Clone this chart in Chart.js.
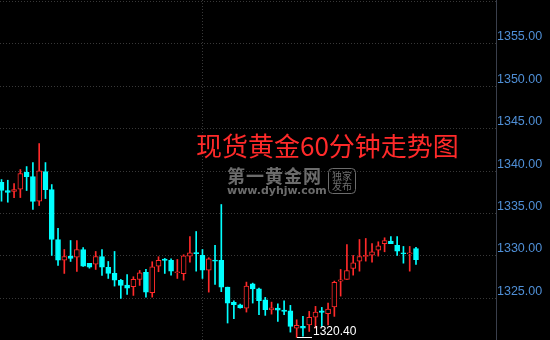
<!DOCTYPE html>
<html>
<head>
<meta charset="utf-8">
<script src="https://cdn.jsdelivr.net/npm/chart.js@4/dist/chart.umd.min.js"></script>
<style>
  html, body { margin: 0; padding: 0; background: #000; }
  .wrap { width: 550px; height: 340px; }
</style>
</head>
<body>
<div class="wrap"><canvas id="goldChart"></canvas></div>
<script>
// 60-minute candles, oldest first
const candleOpen = [
  1338.68, 1337.71, 1337.59, 1337.86, 1339.86, 1339.35, 1336.45, 1339.94, 1337.82, 1331.94,
  1329.51, 1329.98, 1329.86, 1330.76, 1329.12, 1329.04, 1329.94, 1328.65, 1327.94, 1327.12,
  1326.56, 1326.38, 1327.24, 1328.06, 1325.67, 1328.80, 1329.62, 1329.47, 1328.02, 1327.91,
  1329.98, 1330.41, 1330.06, 1328.33, 1329.51, 1329.47, 1326.33, 1324.53, 1324.25, 1323.86,
  1326.72, 1326.13, 1324.84, 1323.66, 1323.86, 1323.62, 1323.54, 1321.50, 1321.70, 1321.89,
  1322.80, 1323.54, 1323.19, 1324.01, 1327.03, 1327.24, 1328.53, 1329.39, 1329.94, 1330.09,
  1330.68, 1331.44, 1331.74, 1331.24, 1330.38, 1330.24, 1330.88
];
const candleHigh = [
  1339.00, 1338.92, 1338.53, 1340.18, 1340.53, 1341.00, 1343.24, 1341.00, 1338.41, 1333.24,
  1330.76, 1331.82, 1331.82, 1331.00, 1329.12, 1330.53, 1330.76, 1329.35, 1330.53, 1327.24,
  1327.82, 1327.55, 1328.29, 1328.41, 1329.32, 1329.91, 1329.71, 1329.67, 1329.59, 1330.14,
  1332.29, 1332.88, 1330.76, 1329.79, 1331.24, 1336.06, 1326.33, 1324.72, 1324.33, 1326.92,
  1326.80, 1326.21, 1325.12, 1324.56, 1324.37, 1324.72, 1324.18, 1322.48, 1322.88, 1323.47,
  1324.06, 1323.94, 1324.45, 1327.04, 1328.41, 1331.35, 1330.06, 1331.94, 1332.06, 1331.47,
  1331.67, 1332.14, 1332.29, 1332.29, 1331.12, 1331.12, 1331.03
];
const candleLow = [
  1336.45, 1336.33, 1336.88, 1336.88, 1337.71, 1335.47, 1335.94, 1336.76, 1330.06, 1328.88,
  1327.94, 1329.35, 1328.18, 1328.78, 1328.56, 1328.41, 1327.71, 1327.35, 1326.45, 1325.00,
  1325.47, 1325.35, 1326.53, 1325.15, 1325.15, 1328.14, 1327.94, 1327.74, 1327.35, 1327.15,
  1329.27, 1328.21, 1327.35, 1325.74, 1326.65, 1325.79, 1322.10, 1322.60, 1323.85, 1323.39,
  1324.45, 1323.07, 1323.00, 1323.15, 1322.29, 1323.07, 1321.03, 1320.40, 1320.55, 1321.11,
  1321.50, 1321.70, 1321.89, 1322.88, 1325.27, 1327.24, 1327.74, 1328.21, 1329.39, 1329.27,
  1329.98, 1330.49, 1331.44, 1330.06, 1329.15, 1328.21, 1329.00
];
const candleClose = [
  1337.71, 1337.47, 1337.82, 1339.71, 1339.35, 1336.41, 1340.02, 1337.82, 1331.94, 1329.51,
  1329.94, 1329.71, 1330.76, 1328.80, 1328.68, 1329.94, 1328.68, 1327.94, 1327.15, 1326.53,
  1326.21, 1327.24, 1328.02, 1325.74, 1328.73, 1329.47, 1329.47, 1328.21, 1328.06, 1330.02,
  1330.38, 1330.26, 1328.33, 1329.67, 1329.39, 1326.33, 1324.45, 1324.25, 1323.89, 1326.45,
  1326.13, 1324.72, 1323.66, 1323.89, 1323.62, 1323.47, 1321.70, 1321.82, 1321.50, 1322.76,
  1323.39, 1323.35, 1323.74, 1326.89, 1327.20, 1328.29, 1329.20, 1329.94, 1330.06, 1330.49,
  1331.20, 1331.82, 1331.44, 1330.56, 1330.26, 1330.30, 1329.55
];
// price grid levels and the session break (candle index)
const priceTicks = [1325, 1330, 1335, 1340, 1345, 1350, 1355, 1360];
const sessionBreaks = [32];
const chartTitle = "现货黄金60分钟走势图";

const UP = "#ff2a2a";
const DOWN = "#00ffff";
const isUp = candleOpen.map((o, i) => candleClose[i] > o);

const bodies = candleOpen.map((o, i) => ({ x: i, y: [o, candleClose[i]] }));
const wicks = candleOpen.map((o, i) => ({ x: i, y: [candleLow[i], candleHigh[i]] }));

// no extra padding around the plot
function noPad(s) {
  s.paddingTop = 0;
  s.paddingBottom = 0;
  s.paddingLeft = 0;
  s.paddingRight = 0;
}

// background, title, watermark and the low marker
const decorPlugin = {
  id: "decor",
  beforeDraw(chart) {
    const ctx = chart.ctx;
    ctx.save();
    ctx.fillStyle = "#000";
    ctx.fillRect(0, 0, chart.width, chart.height);
    ctx.restore();
  },
  beforeDatasetsDraw(chart) {
    const ctx = chart.ctx;
    ctx.save();
    ctx.fillStyle = "#6c6c6c";
    ctx.strokeStyle = "#6c6c6c";
    ctx.textBaseline = "middle";
    ctx.font = 'bold 18px "Noto Sans CJK SC"';
    ctx.letterSpacing = "1px";
    ctx.fillText("第一黄金网", 227, 176);
    ctx.font = 'bold 11px "DejaVu Sans"';
    ctx.letterSpacing = "0px";
    ctx.fillText("www.dyhjw.com", 227, 191);
    ctx.lineWidth = 1;
    ctx.beginPath();
    ctx.roundRect(328.5, 168.5, 27, 25, 4);
    ctx.stroke();
    ctx.font = '10px "Noto Sans CJK SC"';
    ctx.textAlign = "center";
    ctx.fillText("独家", 342, 176);
    ctx.fillText("发布", 342, 186);
    ctx.restore();
  },
  afterDraw(chart) {
    const ctx = chart.ctx;
    const xs = chart.scales.x, ys = chart.scales.y;
    ctx.save();
    ctx.fillStyle = "#ff2a2a";
    ctx.font = '26px "Noto Sans CJK SC"';
    ctx.letterSpacing = "0px";
    ctx.textBaseline = "middle";
    ctx.fillText(chartTitle, 196, 146);

    // lowest low marker
    let li = 0;
    candleLow.forEach((v, i) => { if (v < candleLow[li]) li = i; });
    const px = Math.round(xs.getPixelForValue(li));
    const py = Math.round(ys.getPixelForValue(candleLow[li])) + 0.5;
    ctx.strokeStyle = "#ffffff";
    ctx.lineWidth = 1;
    ctx.beginPath();
    ctx.moveTo(px, py);
    ctx.lineTo(px + 15, py);
    ctx.stroke();
    ctx.fillStyle = "#ffffff";
    ctx.font = '12px "Liberation Sans"';
    ctx.textBaseline = "alphabetic";
    ctx.fillText(candleLow[li].toFixed(2), px + 16, py - 3);
    ctx.restore();
  }
};

new Chart(document.getElementById("goldChart"), {
  type: "bar",
  data: {
    datasets: [
      {
        label: "body",
        data: bodies,
        grouped: false,
        barThickness: 5,
        minBarLength: 1,
        borderSkipped: false,
        borderWidth: 1,
        backgroundColor: isUp.map((u) => (u ? "#000" : DOWN)),
        borderColor: isUp.map((u) => (u ? UP : DOWN)),
      },
      {
        label: "wick",
        data: wicks,
        grouped: false,
        barThickness: 1,
        minBarLength: 1,
        borderWidth: 0,
        backgroundColor: isUp.map((u) => (u ? UP : DOWN)),
      },
    ],
  },
  options: {
    responsive: true,
    maintainAspectRatio: false,
    animation: false,
    layout: { padding: 0 },
    plugins: { legend: { display: false }, tooltip: { enabled: false } },
    scales: {
      x: {
        type: "linear",
        offset: false,
        min: -0.24,
        max: 78.74,
        afterBuildTicks: (s) => { s.ticks = sessionBreaks.map((v) => ({ value: v })); },
        afterFit: (s) => { s.height = 0; noPad(s); },
        ticks: { display: false },
        grid: { color: "#383838", drawTicks: false, offset: false },
        border: { display: false, dash: [1, 2] },
      },
      y: {
        position: "right",
        min: 1320.1,
        max: 1360.15,
        afterBuildTicks: (s) => { s.ticks = priceTicks.map((v) => ({ value: v })); },
        afterFit: (s) => { s.width = 54; noPad(s); },
        ticks: {
          color: "#4f8fd6",
          font: { family: "Liberation Sans", size: 12.5 },
          padding: 1,
          labelOffset: -7,
          callback: (v) => (v < 1360 ? v.toFixed(2) : ""),
        },
        grid: { color: "#383838", drawTicks: false },
        border: { display: true, color: "#3a3f4c", dash: [1, 2] },
      },
    },
  },
  plugins: [decorPlugin],
});
</script>
</body>
</html>
